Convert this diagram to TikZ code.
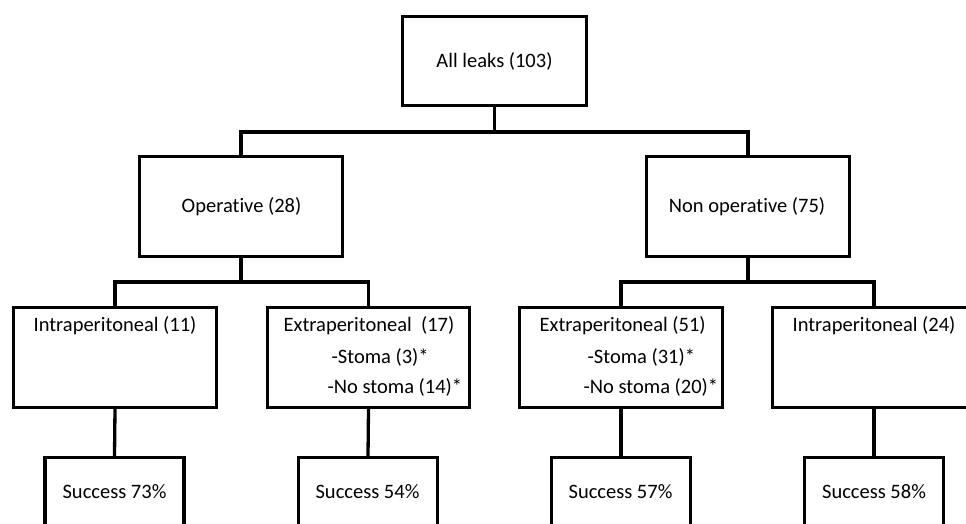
\documentclass[tikz,border=0pt]{standalone}
\usepackage{fontspec}
\setmainfont{Carlito}[Ligatures={NoCommon,NoRare,NoDiscretionary}]
\begin{document}
\begin{tikzpicture}[x=1pt,y=-1pt,line width=3.3pt,
  box/.style={draw,rectangle,inner sep=0pt,minimum width=#1},
  bigbox/.style={box=203pt,minimum height=100pt},
  resbox/.style={box=139pt,minimum height=120pt},
  txt/.style={font=\fontsize{20.5}{24}\selectfont,inner sep=0pt}]
\useasboundingbox (0,0) rectangle (966,523);
\clip (0,0) rectangle (966,523);
% boxes
\node[box=184pt,minimum height=89pt] (top) at (494.5,61) {};
\node[bigbox] (op) at (241,206.5) {};
\node[bigbox] (nonop) at (748,206.5) {};
\node[bigbox] (i11) at (115,357.5) {};
\node[bigbox,minimum width=202pt] (e17) at (368.5,357.5) {};
\node[bigbox] (e51) at (621,357.5) {};
\node[bigbox] (i24) at (874,357.5) {};
\node[resbox] (s73) at (114.5,517.6) {};
\node[resbox] (s54) at (368,517.6) {};
\node[resbox] (s57) at (621,517.6) {};
\node[resbox] (s58) at (874,517.6) {};
% texts
\node[txt] (ttop) at (494.5,61) {All leaks (103)};
\node[txt] (top2) at (241.5,207) {Operative (28)};
\node[txt] (tnonop) at (747,207) {Non operative (75)};
\node[txt] (ti11) at (115,326) {Intraperitoneal (11)};
\node[txt,anchor=west] (te17a) at (282,326) {Extraperitoneal\ \ (17)};
\node[txt,anchor=west] (te17b) at (330,357) {-Stoma (3)*};
\node[txt,anchor=west] (te17c) at (326,387) {-No stoma (14)*};
\node[txt,anchor=west] (te51a) at (538,326) {Extraperitoneal (51)};
\node[txt,anchor=west] (te51b) at (586,357) {-Stoma (31)*};
\node[txt,anchor=west] (te51c) at (582,387) {-No stoma (20)*};
\node[txt] (ti24) at (874,326) {Intraperitoneal (24)};
\node[txt] (ts73) at (114.5,492) {Success 73\%};
\node[txt] (ts54) at (367.5,492) {Success 54\%};
\node[txt] (ts57) at (620.5,492) {Success 57\%};
\node[txt] (ts58) at (874,492) {Success 58\%};
% connectors
\coordinate (j1) at (494.5,132);
\coordinate (j2) at (241,282);
\coordinate (j3) at (748,282);
\draw (top.south) -- (j1);
\draw (op.north) -- (op.north |- j1) -- (nonop.north |- j1) -- (nonop.north);
\draw (op.south) -- (j2);
\draw (i11.north) -- (i11.north |- j2) -- (e17.north |- j2) -- (e17.north);
\draw (nonop.south) -- (j3);
\draw (e51.north) -- (e51.north |- j3) -- (i24.north |- j3) -- (i24.north);
\draw (i11.south) -- (s73.north);
\draw (e17.south) -- (s54.north);
\draw (e51.south) -- (s57.north);
\draw (i24.south) -- (s58.north);
\end{tikzpicture}
\end{document}
